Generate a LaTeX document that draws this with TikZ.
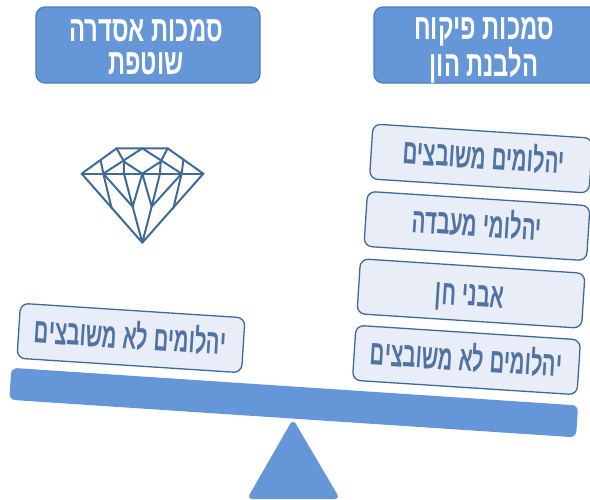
\documentclass[tikz,border=0pt]{standalone}
\usepackage{fontspec}
\usepackage{graphicx}
\TeXXeTstate=1
\newfontfamily\hebfont[Script=Hebrew]{Liberation Sans}
\newcommand{\narrowline}[2]{\scalebox{#1}[1]{#2}}
\definecolor{blueFill}{HTML}{6496D8}
\definecolor{blueEdge}{HTML}{4A7EBB}
\definecolor{paleFill}{HTML}{E9EDF7}
\definecolor{darkEdge}{HTML}{3F6A98}
\definecolor{itemText}{HTML}{4F74A3}
\tikzset{
  header/.style={draw=blueEdge,line width=1.3pt,fill=blueFill,rounded corners=9pt,minimum height=76pt,text=white,inner sep=0pt},
  item/.style={draw=darkEdge,line width=1.3pt,fill=paleFill,rounded corners=8pt,minimum height=55pt,text=itemText,inner sep=0pt,rotate=-3.7},
  itemfont/.style={font=\hebfont\bfseries\fontsize{35}{38}\selectfont,text=itemText,rotate=-3.7,inner sep=0pt,anchor=base},
  headfont/.style={font=\hebfont\bfseries\fontsize{36}{33}\selectfont,text=white,inner sep=0pt,align=center,anchor=center},
  gem/.style={draw=darkEdge,line width=2pt,line join=round,line cap=round}
}
\begin{document}
\begin{tikzpicture}[x=1pt,y=-1pt]
\useasboundingbox (0,0) rectangle (590,499);
\clip (0,0) rectangle (590,499);
% headers
\node[header,minimum width=224pt] (hl) at (148,45) {};
\node[header,minimum width=240pt] (hr) at (494,45) {};
\node[headfont] (hlt) at (146,47) {\narrowline{0.66}{\beginR סמכות אסדרה\endR}\\\narrowline{0.66}{\beginR שוטפת\endR}};
\node[headfont] (hrt) at (484,50) {\narrowline{0.66}{\beginR סמכות פיקוח\endR}\\\narrowline{0.66}{\beginR הלבנת הון\endR}};
% items
\node[item,minimum width=220pt] (i1) at (481,158.5) {};
\node[item,minimum width=223pt] (i2) at (477,226) {};
\node[item,minimum width=225pt] (i3) at (471,293.5) {};
\node[item,minimum width=225pt] (i4) at (466.5,360) {};
\node[item,minimum width=225pt] (i5) at (131,338) {};
\node[itemfont] (t1) at (483,169) {\narrowline{0.585}{\beginR יהלומים משובצים\endR}};
\node[itemfont] (t2) at (476,236.5) {\narrowline{0.585}{\beginR יהלומי מעבדה\endR}};
\node[itemfont] (t3) at (469,306) {\narrowline{0.585}{\beginR אבני חן\endR}};
\node[itemfont] (t4) at (465.5,371) {\narrowline{0.58}{\beginR יהלומים לא משובצים\endR}};
\node[itemfont] (t5) at (129.5,349) {\narrowline{0.58}{\beginR יהלומים לא משובצים\endR}};
% beam
\node[fill=blueFill,rounded corners=6pt,minimum width=568pt,minimum height=32pt,rotate=-3.8,inner sep=0pt] (beam) at (293.7,402.6) {};
% fulcrum
\fill[blueFill,rounded corners=5pt] (293,419) -- (340,499) -- (247,499) -- cycle;
% diamond
\begin{scope}[shift={(60,130)},x=0.3333pt,y=-0.3333pt]
\draw[gem] (65,131) -- (170,55) -- (323,55) -- (430,131) -- (247,338) -- cycle;
\draw[gem] (65,131) -- (430,131);
\draw[gem] (130,131) -- (247,55) -- (365,131);
\draw[gem] (170,55) -- (192,95) -- (247,131) -- (302,95) -- (323,55);
\draw[gem] (192,95) -- (192,131) -- (218,230) -- (247,131) -- (275,230) -- (300,131) -- (302,95);
\draw[gem] (122,91) -- (130,131) -- (155,235);
\draw[gem] (370,91) -- (365,131) -- (340,235);
\draw[gem] (130,131) -- (218,230) -- (247,338) -- (275,230) -- (365,131);
\end{scope}
\end{tikzpicture}
\end{document}
